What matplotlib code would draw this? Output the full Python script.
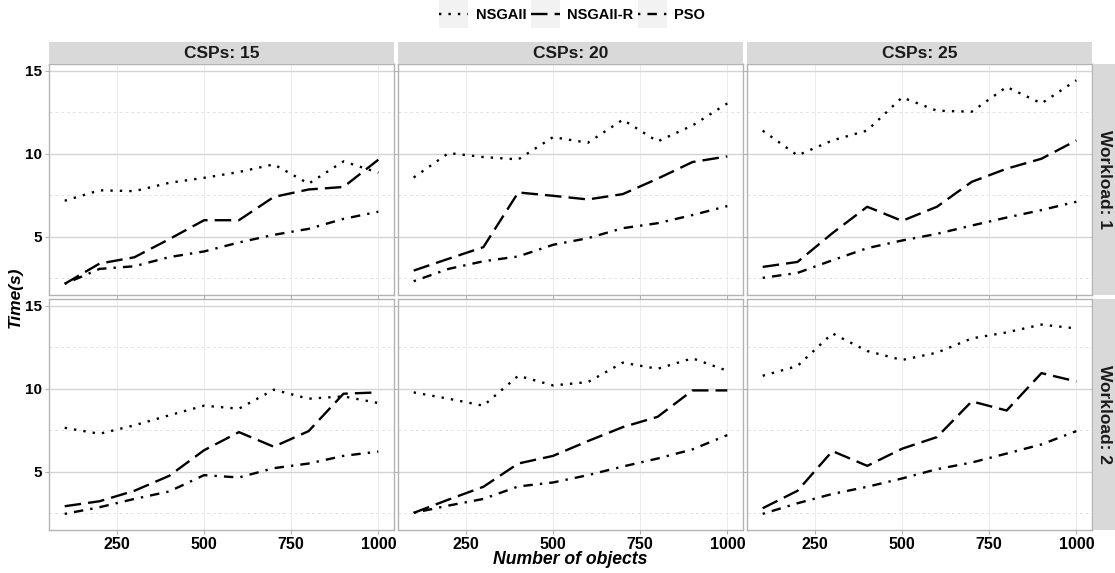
import matplotlib
matplotlib.use('Agg')
import matplotlib.pyplot as plt
from matplotlib.lines import Line2D
from matplotlib.patches import Rectangle

plt.rcParams['font.family'] = ['Liberation Sans', 'DejaVu Sans']

objects = [100, 200, 300, 400, 500, 600, 700, 800, 900, 1000]
csps = [15, 20, 25]
workloads = [1, 2]
algos = ['NSGAII', 'NSGAII-R', 'PSO']

# workload 1
nsga_w1_c15 = [7.17, 7.8, 7.75, 8.25, 8.55, 8.9, 9.36, 8.2, 9.54, 8.86]
nsgar_w1_c15 = [2.17, 3.39, 3.77, 4.86, 6.0, 6.0, 7.4, 7.85, 8.0, 9.64]
pso_w1_c15 = [2.17, 3.07, 3.23, 3.78, 4.12, 4.66, 5.12, 5.48, 6.08, 6.51]

nsga_w1_c20 = [8.57, 10.04, 9.8, 9.66, 11.0, 10.66, 12.05, 10.74, 11.7, 13.03]
nsgar_w1_c20 = [2.97, 3.68, 4.38, 7.67, 7.47, 7.25, 7.57, 8.5, 9.5, 9.84]
pso_w1_c20 = [2.33, 3.07, 3.53, 3.82, 4.52, 4.92, 5.52, 5.82, 6.31, 6.85]

nsga_w1_c25 = [11.39, 9.9, 10.8, 11.4, 13.39, 12.59, 12.53, 14.02, 13.03, 14.42]
nsgar_w1_c25 = [3.19, 3.49, 5.22, 6.81, 5.96, 6.81, 8.31, 9.1, 9.7, 10.8]
pso_w1_c25 = [2.53, 2.83, 3.59, 4.32, 4.78, 5.18, 5.68, 6.16, 6.61, 7.11]

# workload 2
nsga_w2_c15 = [7.65, 7.29, 7.8, 8.4, 8.98, 8.8, 9.94, 9.4, 9.54, 9.14]
nsgar_w2_c15 = [2.93, 3.23, 3.86, 4.76, 6.3, 7.39, 6.51, 7.45, 9.7, 9.78]
pso_w2_c15 = [2.47, 2.87, 3.37, 3.82, 4.8, 4.66, 5.22, 5.5, 5.96, 6.22]

nsga_w2_c20 = [9.78, 9.4, 8.98, 10.78, 10.2, 10.4, 11.57, 11.2, 11.83, 11.08]
nsgar_w2_c20 = [2.53, 3.33, 4.1, 5.5, 5.96, 6.85, 7.69, 8.31, 9.9, 9.9]
pso_w2_c20 = [2.53, 2.97, 3.37, 4.12, 4.36, 4.8, 5.32, 5.8, 6.35, 7.21]

nsga_w2_c25 = [10.78, 11.37, 13.33, 12.27, 11.73, 12.17, 13.03, 13.39, 13.86, 13.63]
nsgar_w2_c25 = [2.81, 3.86, 6.25, 5.36, 6.39, 7.09, 9.24, 8.69, 10.94, 10.44]
pso_w2_c25 = [2.47, 3.11, 3.67, 4.1, 4.6, 5.16, 5.56, 6.1, 6.65, 7.45]

panels = {
    (1, 15): [nsga_w1_c15, nsgar_w1_c15, pso_w1_c15],
    (1, 20): [nsga_w1_c20, nsgar_w1_c20, pso_w1_c20],
    (1, 25): [nsga_w1_c25, nsgar_w1_c25, pso_w1_c25],
    (2, 15): [nsga_w2_c15, nsgar_w2_c15, pso_w2_c15],
    (2, 20): [nsga_w2_c20, nsgar_w2_c20, pso_w2_c20],
    (2, 25): [nsga_w2_c25, nsgar_w2_c25, pso_w2_c25],
}

styles = [(0, (1, 3)), (0, (7, 3)), (0, (1, 3, 4, 3))]
lw = 1.7

W, H = 1115, 573
fig = plt.figure(figsize=(W / 100, H / 100), dpi=100)

left, pw, gap = 49, 345, 4
row_tops = [64, 299]
ph = 231

for r, wl in enumerate(workloads):
    for c, cs in enumerate(csps):
        x0 = left + c * (pw + gap)
        y0 = row_tops[r] + ph
        ax = fig.add_axes([x0 / W, 1 - y0 / H, pw / W, ph / H])
        for vals, ls in zip(panels[(wl, cs)], styles):
            ax.plot(objects, vals, color='black', lw=lw, linestyle=ls,
                    dash_capstyle='butt', solid_capstyle='butt')
        ax.set_xlim(55, 1045)
        ax.set_ylim(1.5, 15.4)
        ax.set_xticks([250, 500, 750, 1000])
        ax.set_yticks([5, 10, 15])
        ax.set_yticks([2.5, 7.5, 12.5], minor=True)
        ax.grid(which='major', axis='y', color='#D4D4D4', lw=1.0)
        ax.grid(which='minor', axis='y', color='#E3E3E3', lw=0.7, linestyle=(0, (3, 3)))
        ax.grid(which='major', axis='x', color='#EBEBEB', lw=0.7)
        ax.set_axisbelow(True)
        for s in ax.spines.values():
            s.set_color('#B3B3B3')
            s.set_linewidth(1.0)
        ax.tick_params(which='both', length=0)
        ax.tick_params(which='major', axis='y', length=3, color='#B3B3B3', pad=2)
        ax.tick_params(which='major', axis='x', length=3, color='#B3B3B3', pad=2)
        if c == 0:
            ax.set_yticklabels(['5', '10', '15'], fontsize=11, fontweight='bold')
        else:
            ax.set_yticklabels([])
        if r == 1:
            ax.set_xticklabels(['250', '500', '750', '1000'], fontsize=11.5, fontweight='bold')
        else:
            ax.set_xticklabels([])

        if r == 0:
            sax = fig.add_axes([x0 / W, 1 - 64 / H, pw / W, 22 / H])
            sax.set_facecolor('#D9D9D9')
            sax.set_xticks([])
            sax.set_yticks([])
            for s in sax.spines.values():
                s.set_visible(False)
            sax.text(0.5, 0.5, 'CSPs: %d' % cs, ha='center', va='center',
                     fontsize=12.5, fontweight='bold', color='#1A1A1A')
        if c == 2:
            rax = fig.add_axes([1093 / W, 1 - y0 / H, 22 / W, ph / H])
            rax.set_facecolor('#D9D9D9')
            rax.set_xticks([])
            rax.set_yticks([])
            for s in rax.spines.values():
                s.set_visible(False)
            rax.text(0.5, 0.5, 'Workload: %d' % wl, ha='center', va='center',
                     rotation=-90, fontsize=12.5, fontweight='bold', color='#1A1A1A')

fig.text(570 / W, 1 - 559 / H, 'Number of objects', ha='center', va='center',
         fontsize=12.7, fontweight='bold', fontstyle='italic')
fig.text(15 / W, 1 - 297 / H, 'Time(s)', ha='center', va='center', rotation=90,
         fontsize=12.5, fontweight='bold', fontstyle='italic')

handles = [Line2D([], [], color='black', lw=lw, linestyle=ls, dash_capstyle='butt')
           for ls in styles]
leg = fig.legend(handles, algos, loc='center', bbox_to_anchor=(572 / W, 1 - 15 / H),
                 ncol=3, frameon=False, handlelength=2.0, handletextpad=0.5,
                 columnspacing=0.3, prop={'weight': 'bold', 'size': 10.5})

fig.canvas.draw()
renderer = fig.canvas.get_renderer()
for h in leg.legend_handles:
    bb = h.get_window_extent(renderer)
    cx = (bb.x0 + bb.x1) / 2
    cy = (bb.y0 + bb.y1) / 2
    wbox = 29
    fig.patches.append(Rectangle(((cx - wbox / 2) / W, (cy - 14.5) / H), wbox / W, 29 / H,
                                 transform=fig.transFigure, facecolor='#F2F2F2',
                                 edgecolor='none', zorder=0, figure=fig))

fig.savefig('out.png', dpi=100)
